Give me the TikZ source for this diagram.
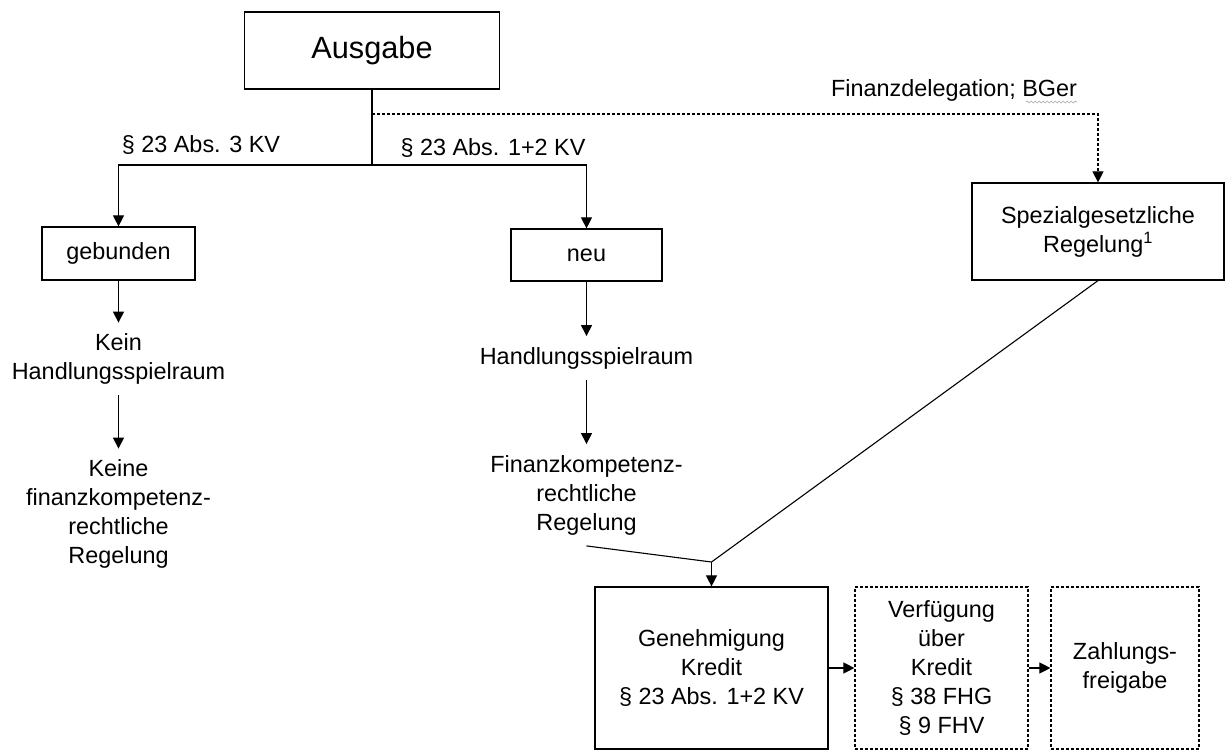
\documentclass[tikz,border=0pt]{standalone}
\usepackage{fontspec}
\setmainfont{Liberation Sans}
\usetikzlibrary{arrows.meta,decorations.pathmorphing}

\begin{document}
\begin{tikzpicture}[x=1pt,y=-1pt,
        every node/.style={font=\fontsize{23.4}{29}\selectfont},
        box/.style={draw, line width=1.2pt, inner sep=0pt, align=center},
        dbox/.style={box, dash pattern=on 3pt off 2pt},
        txt/.style={align=center, inner sep=0pt, outer sep=11pt},
        arr/.style={line width=1.1pt, -{Triangle[length=11pt,width=11pt]}},
        ln/.style={line width=1.1pt}]
        \useasboundingbox (0,0) rectangle (1225,750);

        % boxes
        \node[box, minimum width=255pt, minimum height=77pt, font=\fontsize{30.7}{36}\selectfont] (ausgabe) at (372,50.5) {Ausgabe};
        \node[box, minimum width=153pt, minimum height=53pt] (gebunden) at (118.5,253.5) {gebunden};
        \node[box, minimum width=151pt, minimum height=52pt] (neu) at (586.5,255) {neu};
        \node[box, minimum width=252pt, minimum height=97pt] (spezial) at (1098,231.5) {Spezialgesetzliche\\Regelung\textsuperscript{1}};
        \node[box, minimum width=233pt, minimum height=162pt] (genehmigung) at (711.5,668) {Genehmigung\\Kredit\\\S\ 23 Abs. 1+2 KV};
        \node[dbox, minimum width=173pt, minimum height=162pt] (verfuegung) at (941.5,668) {Verfügung\\über\\Kredit\\\S\ 38 FHG\\\S\ 9 FHV};
        \node[dbox, minimum width=148pt, minimum height=162pt] (zahlung) at (1125,668) {Zahlungs-\\freigabe};

        % texts
        \node[txt] (kein) at (118.5,359) {Kein\\Handlungsspielraum};
        \node[txt] (keine) at (118.5,514) {Keine\\finanzkompetenz-\\rechtliche\\Regelung};
        \node[txt] (handlung) at (586.5,358) {Handlungsspielraum};
        \node[txt] (finanzkomp) at (586.5,495) {Finanzkompetenz-\\rechtliche\\Regelung};

        % labels
        \node (abs3) at (201,145) {\S\ 23 Abs. 3 KV};
        \node (abs12) at (493,148) {\S\ 23 Abs. 1+2 KV};
        \node (findel) at (954,90) {Finanzdelegation; BGer};
        \draw[gray!70, line width=0.6pt, decorate, decoration={snake, amplitude=0.9pt, segment length=4pt}] (1026,102) -- (1077,102);

        \coordinate (split) at (372,165);
        \coordinate (fork) at (372,114);
        \coordinate (merge) at (711.5,562);

        % connectors
        \draw[ln] (ausgabe.south) -- (split);
        \draw[arr] (split) -| (gebunden.north);
        \draw[arr] (split) -| (neu.north);
        \draw[arr, dash pattern=on 3pt off 2pt] (fork) -| (spezial.north);
        \draw[arr] (gebunden.south) -- (kein.north);
        \draw[arr] (kein.south) -- (keine.north);
        \draw[arr] (neu.south) -- (handlung.north);
        \draw[arr] (handlung.south) -- (finanzkomp.north);
        \draw[ln] (finanzkomp.south) -- (merge);
        \draw[ln] (spezial.south) -- (merge);
        \draw[arr] (merge) -- (genehmigung.north);
        \draw[arr] (genehmigung) -- (verfuegung);
        \draw[arr] (verfuegung) -- (zahlung);
\end{tikzpicture}
\end{document}
